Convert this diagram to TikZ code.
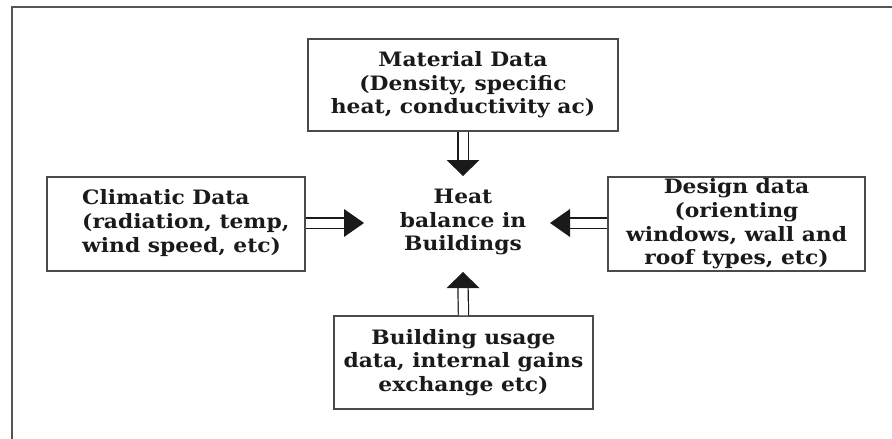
\documentclass[tikz,border=0pt]{standalone}
\usepackage{fontspec}
\setmainfont{DejaVu Serif}
\newfontfamily\diagfont[FakeStretch=1.1]{DejaVu Serif}
\usetikzlibrary{calc}
\definecolor{linegray}{HTML}{4A4A4A}
\definecolor{framegray}{HTML}{555555}
\definecolor{inkc}{HTML}{1A1A1A}
\begin{document}
\begin{tikzpicture}[x=1pt,y=-1pt,
  box/.style={draw=linegray, line width=1.3pt, inner sep=0pt, align=center,
    font=\diagfont\bfseries\fontsize{19.8}{23.6}\selectfont, text=inkc},
  plaintext/.style={inner sep=0pt, align=center, font=\diagfont\bfseries\fontsize{19.8}{23.6}\selectfont, text=inkc},
  shaft/.style={draw=inkc, double=white, double distance=9pt, line width=1.2pt},
  head/.style={fill=inkc},
  frame/.style={draw=framegray, line width=1.8pt}]
\useasboundingbox (0,0) rectangle (892,439);
\draw[frame] (12,439) -- (12,7) -- (892,7);

\node[box, minimum width=310pt, minimum height=92pt] (mat) at (463,85)
  {Material Data\\(Density, specific\\heat, conductivity ac)};
\node[box, minimum width=258pt, minimum height=94pt] (clim) at (176,224) {};
\node[plaintext, align=left, anchor=west] (climt) at (82,223)
  {Climatic Data\\(radiation, temp,\\wind speed, etc)};
\node[box, minimum width=257pt, minimum height=94pt] (des) at (736.5,224)
  {Design data\\(orienting\\windows, wall and\\roof types, etc)};
\node[box, minimum width=259pt, minimum height=93pt] (bu) at (463.5,362.5)
  {Building usage\\data, internal gains\\exchange etc)};
\node[plaintext] (heat) at (463,222) {Heat\\balance in\\Buildings};

\coordinate (tipT) at (463,176);  \coordinate (baseT) at (463,160);
\coordinate (tipB) at (463,272);  \coordinate (baseB) at (463,288);
\coordinate (tipL) at (364,223);  \coordinate (baseL) at (344,223);
\coordinate (tipR) at (550,223);  \coordinate (baseR) at (570,223);

\draw[shaft] (mat.south) -- (baseT);
\draw[shaft] (bu.north) -- (baseB);
\draw[shaft] (clim.east |- baseL) -- (baseL);
\draw[shaft] (des.west |- baseR) -- (baseR);

\fill[head] (tipT) -- ($(baseT)+(-16.5,0)$) -- ($(baseT)+(16.5,0)$) -- cycle;
\fill[head] (tipB) -- ($(baseB)+(-16.5,0)$) -- ($(baseB)+(16.5,0)$) -- cycle;
\fill[head] (tipL) -- ($(baseL)+(0,-14)$) -- ($(baseL)+(0,14)$) -- cycle;
\fill[head] (tipR) -- ($(baseR)+(0,-14)$) -- ($(baseR)+(0,14)$) -- cycle;
\end{tikzpicture}
\end{document}
